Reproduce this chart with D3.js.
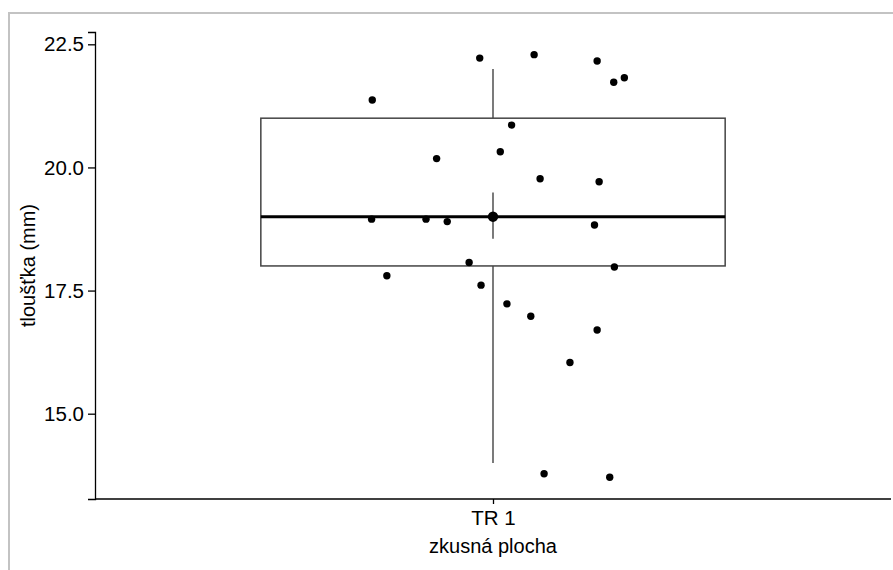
<!DOCTYPE html>
<html>
<head>
<meta charset="utf-8">
<script src="https://cdn.jsdelivr.net/npm/d3@7"></script>
<style>
  html, body { margin: 0; padding: 0; background: #fff; }
  svg { display: block; }
  text { font-family: "Liberation Sans", Arial, sans-serif; fill: #000; }
</style>
</head>
<body>
<svg id="chart" width="893" height="570"></svg>
<script>
// ---- data ----
const categories = ["TR 1"];
const yTicks = [15.0, 17.5, 20.0, 22.5];
// box summary (lower whisker, Q1, median, Q3, upper whisker)
const boxStats = [14.0, 18.0, 19.0, 21.0, 22.0];
// mean with standard-error range
const meanStats = [18.55, 19.0, 19.49];
// individual observations (mm) and their horizontal jitter (category units)
const values = [22.22, 22.29, 22.16, 21.73, 21.82, 21.37, 20.86, 20.32, 20.18, 19.77,
                19.71, 18.95, 18.95, 18.90, 18.83, 18.07, 17.98, 17.80, 17.61, 17.23,
                16.98, 16.70, 16.04, 13.78, 13.71];
const jitter = [-0.020, 0.062, 0.157, 0.182, 0.198, -0.182, 0.028, 0.011, -0.085, 0.071,
                0.160, -0.183, -0.101, -0.069, 0.153, -0.036, 0.183, -0.160, -0.018, 0.021,
                0.057, 0.157, 0.116, 0.077, 0.176];
const xTitle = "zkusná plocha";
const yTitle = "tloušťka (mm)";

// ---- layout ----
const svg = d3.select("#chart");
const mLeft = 95, mRight = 891, mTop = 32, mBottom = 499;

// outer frame
svg.append("rect")
  .attr("x", 9).attr("y", 13).attr("width", 920).attr("height", 600)
  .attr("fill", "none").attr("stroke", "#c3c3c3").attr("stroke-width", 2);

const x = d3.scaleLinear().domain([0.4, 1.6]).range([mLeft, mRight]);
const catIndex = d3.scaleOrdinal().domain(categories).range([1]);
const y = d3.scaleLinear().domain([13.268, 22.75]).range([mBottom, mTop]);

const g = svg.append("g");
const c = catIndex(categories[0]);
const cx = x(c);
const boxW = 0.7;

// whiskers
g.append("line").attr("x1", cx).attr("x2", cx)
  .attr("y1", y(boxStats[3])).attr("y2", y(boxStats[4]))
  .attr("stroke", "#333").attr("stroke-width", 1.3);
g.append("line").attr("x1", cx).attr("x2", cx)
  .attr("y1", y(boxStats[0])).attr("y2", y(boxStats[1]))
  .attr("stroke", "#333").attr("stroke-width", 1.3);
// box
g.append("rect")
  .attr("x", x(c - boxW / 2)).attr("width", x(c + boxW / 2) - x(c - boxW / 2))
  .attr("y", y(boxStats[3])).attr("height", y(boxStats[1]) - y(boxStats[3]))
  .attr("fill", "#fff").attr("stroke", "#444").attr("stroke-width", 1.5);
// median
g.append("line")
  .attr("x1", x(c - boxW / 2)).attr("x2", x(c + boxW / 2))
  .attr("y1", y(boxStats[2])).attr("y2", y(boxStats[2]))
  .attr("stroke", "#000").attr("stroke-width", 3);

// jittered points
g.selectAll("circle.pt").data(values).join("circle")
  .attr("class", "pt")
  .attr("cx", (d, i) => x(c + jitter[i]))
  .attr("cy", d => y(d))
  .attr("r", 3.7)
  .attr("fill", "#000");

// mean ± se
g.append("line").attr("x1", cx).attr("x2", cx)
  .attr("y1", y(meanStats[0])).attr("y2", y(meanStats[2]))
  .attr("stroke", "#333").attr("stroke-width", 1.3);
g.append("circle").attr("cx", cx).attr("cy", y(meanStats[1])).attr("r", 5.2).attr("fill", "#000");

// axes
const yAxis = d3.axisLeft(y).tickValues(yTicks).tickFormat(d3.format(".1f")).tickSizeOuter(0).tickSize(7).tickPadding(4);
const ya = svg.append("g").attr("transform", `translate(${mLeft},0)`).call(yAxis);
ya.select(".domain").attr("stroke", "#000").attr("stroke-width", 1.3);
ya.selectAll(".tick line").attr("stroke", "#000").attr("stroke-width", 1.3);
ya.selectAll(".tick text").attr("font-size", 20.5).attr("font-family", "Liberation Sans, Arial, sans-serif").attr("fill", "#000");

const xCat = d3.scalePoint().domain(categories).range([cx, cx]);
const xAxis = d3.axisBottom(xCat).tickSizeOuter(0).tickSize(5).tickPadding(6);
const xa = svg.append("g").attr("transform", `translate(0,${mBottom})`).call(xAxis);
xa.select(".domain").remove();
xa.append("line").attr("x1", mLeft).attr("x2", mRight).attr("stroke", "#000").attr("stroke-width", 1.3);
xa.selectAll(".tick line").attr("stroke", "#000").attr("stroke-width", 1.3);
xa.selectAll(".tick text").attr("font-size", 20.5).attr("font-family", "Liberation Sans, Arial, sans-serif").attr("fill", "#000");

// titles
svg.append("text").attr("x", cx).attr("y", 553)
  .attr("text-anchor", "middle").attr("font-size", 20).text(xTitle);
svg.append("text")
  .attr("transform", `translate(35,${(mTop + mBottom) / 2}) rotate(-90)`)
  .attr("text-anchor", "middle").attr("font-size", 20).text(yTitle);
</script>
</body>
</html>
